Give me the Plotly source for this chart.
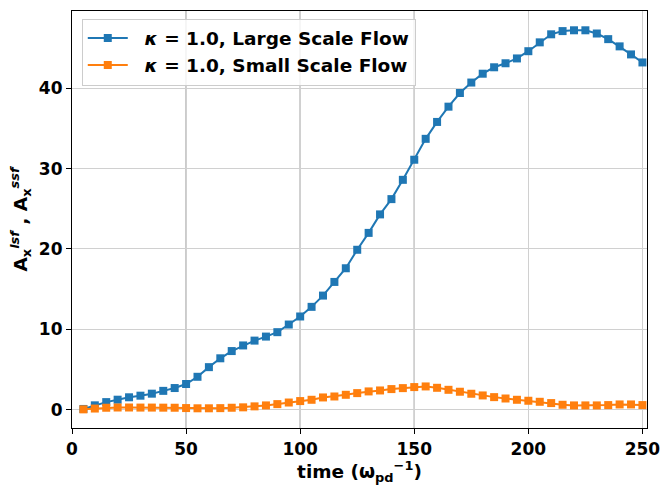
import plotly.graph_objects as go

# Simulation output times (in units of 1/omega_pd)
time = [5, 10, 15, 20, 25, 30, 35, 40, 45, 50,
        55, 60, 65, 70, 75, 80, 85, 90, 95, 100,
        105, 110, 115, 120, 125, 130, 135, 140, 145, 150,
        155, 160, 165, 170, 175, 180, 185, 190, 195, 200,
        205, 210, 215, 220, 225, 230, 235, 240, 245, 250]

# Amplitude of the large scale flow, kappa = 1.0
a_lsf = [0.1, 0.55, 0.95, 1.25, 1.55, 1.75, 2.0, 2.35, 2.7, 3.2,
         4.1, 5.3, 6.4, 7.3, 8.0, 8.6, 9.1, 9.65, 10.6, 11.6,
         12.8, 14.2, 15.9, 17.6, 19.9, 22.0, 24.3, 26.2, 28.6, 31.1,
         33.7, 35.8, 37.7, 39.4, 40.7, 41.8, 42.6, 43.1, 43.7, 44.6,
         45.7, 46.7, 47.1, 47.2, 47.2, 46.8, 46.1, 45.2, 44.2, 43.2]

# Amplitude of the small scale flow, kappa = 1.0
a_ssf = [0.05, 0.15, 0.25, 0.28, 0.28, 0.27, 0.27, 0.26, 0.25, 0.21,
         0.18, 0.18, 0.2, 0.25, 0.3, 0.42, 0.54, 0.7, 0.9, 1.08,
         1.24, 1.53, 1.65, 1.86, 2.07, 2.28, 2.4, 2.57, 2.69, 2.82,
         2.9, 2.73, 2.48, 2.24, 1.99, 1.78, 1.57, 1.4, 1.24, 1.12,
         0.99, 0.83, 0.62, 0.54, 0.54, 0.54, 0.58, 0.66, 0.66, 0.58]

series_names = ["&nbsp;&nbsp;<b><i>κ</i> = 1.0, Large Scale Flow</b>",
                "&nbsp;&nbsp;<b><i>κ</i> = 1.0, Small Scale Flow</b>"]
series_colors = ["#1f77b4", "#ff7f0e"]

x_ticks = [0, 50, 100, 150, 200, 250]
y_ticks = [0, 10, 20, 30, 40]
dark_grid_x = [50, 100, 150]

FONT = "DejaVu Sans"

fig = go.Figure()
for name, vals, col in zip(series_names, [a_lsf, a_ssf], series_colors):
    fig.add_trace(go.Scatter(
        x=time, y=vals, name=name, mode="lines+markers",
        line=dict(color=col, width=2),
        marker=dict(symbol="square", size=8, color=col,
                    line=dict(width=0)),
    ))

# slightly heavier vertical grid lines
for gx in dark_grid_x:
    fig.add_shape(type="line", xref="x", yref="paper", x0=gx, x1=gx, y0=0, y1=1,
                  line=dict(color="#b0b0b0", width=1.5), layer="below")

axis_common = dict(
    showline=True, linecolor="black", linewidth=1.2, mirror=True,
    ticks="outside", ticklen=5, tickwidth=1.2, tickcolor="black",
    showgrid=True, gridcolor="#d0d0d0", gridwidth=1.2,
    zeroline=False, automargin=False,
    tickfont=dict(family=FONT, size=17, color="black", weight="bold"),
)

fig.update_layout(
    width=664, height=485,
    margin=dict(l=72, r=17, t=11, b=57),
    paper_bgcolor="white", plot_bgcolor="white",
    font=dict(family=FONT, color="black"),
    showlegend=True,
    legend=dict(
        x=0.017, y=0.982, xanchor="left", yanchor="top",
        bgcolor="rgba(255,255,255,0.8)", bordercolor="#cccccc", borderwidth=1,
        font=dict(family=FONT, size=18.5, color="black"),
        itemwidth=40,
    ),
    xaxis=dict(
        range=[0, 252], tickvals=x_ticks,
        title=dict(text="<b>time (ω<sub>pd</sub><sup>−1</sup>)</b>",
                   font=dict(family=FONT, size=18.5, color="black"), standoff=1),
        **axis_common,
    ),
    yaxis=dict(
        range=[-2.27, 49.6], tickvals=y_ticks,
        title=dict(text="<b>A<sub>x</sub><sup><i>lsf</i></sup> , A<sub>x</sub><sup><i>ssf</i></sup></b>",
                   font=dict(family=FONT, size=18.5, color="black"), standoff=6),
        **axis_common,
    ),
)

fig.write_html("out.html")
